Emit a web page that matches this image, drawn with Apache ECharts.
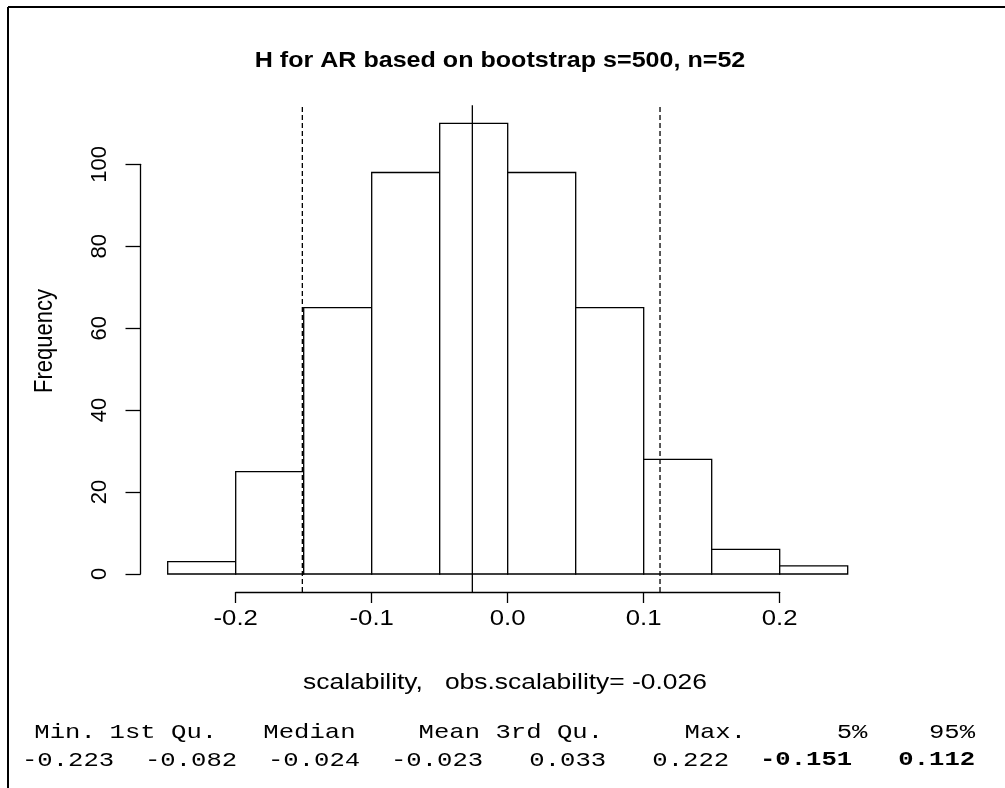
<!DOCTYPE html>
<html>
<head>
<meta charset="utf-8">
<script src="https://cdn.jsdelivr.net/npm/echarts@6/dist/echarts.min.js"></script>
<style>
html,body{margin:0;padding:0;background:#fff;}
#chart{width:1005px;height:788px;}
</style>
</head>
<body>
<div id="chart"></div>
<script>
// ---- data ----
const binEdges = [-0.25, -0.2, -0.15, -0.1, -0.05, 0.0, 0.05, 0.1, 0.15, 0.2, 0.25];
const counts = [3, 25, 65, 98, 110, 98, 65, 28, 6, 2];
const ciBounds = [-0.151, 0.112];
const observed = -0.026;
const xTickValues = [-0.2, -0.1, 0.0, 0.1, 0.2];
const xTickLabels = ['-0.2', '-0.1', '0.0', '0.1', '0.2'];
const yTickValues = [0, 20, 40, 60, 80, 100];
const titleText = 'H for AR based on bootstrap s=500, n=52';
const yAxisTitle = 'Frequency';
const xAxisTitle = 'scalability,   obs.scalability= -0.026';
const statNames = ['Min.', '1st Qu.', 'Median', 'Mean', '3rd Qu.', 'Max.', '5%', '95%'];
const statValues = ['-0.223', '-0.082', '-0.024', '-0.023', '0.033', '0.222', '-0.151', '0.112'];

// ---- layout ----
const X0 = 507.7, PXX = 1360;        // px per unit x
const Y0 = 574, PXY = 4.097;          // px per count
const usrX = [-0.27, 0.27], usrY = [-4.4, 114.4];
const plotLeft = X0 + usrX[0] * PXX, plotW = (usrX[1] - usrX[0]) * PXX;
const plotTop = Y0 - usrY[1] * PXY, plotH = (usrY[1] - usrY[0]) * PXY;
const axLeft = X0 + xTickValues[0] * PXX, axW = (xTickValues[4] - xTickValues[0]) * PXX;
const yTop = Y0 - yTickValues[5] * PXY, yH = yTickValues[5] * PXY;

const SANS = 'Liberation Sans, Arial, sans-serif';
const MONO = 'Liberation Mono, Courier New, monospace';
const LW = 1.3;
const SX = 1.17;   // horizontal stretch of the original picture

const bins = counts.map((c, i) => [binEdges[i], binEdges[i + 1], c]);

// stats line layout (monospace columns)
const MONO_SIZE = 21, MONO_SX = 1.22, statX0 = 22;
const charW = MONO_SIZE * 0.6 * MONO_SX;
const headerCenters = [2.8, 9.2, 18.7, 27.8, 34.3, 45.1, 54, 60.5];
function padTo(s, end, cur) { return ' '.repeat(Math.max(0, end - cur - s.length)) + s; }
let valsNormal = '', valsBold = '', vc = 0;
statValues.forEach((v, i) => {
  const p = padTo(v, 6 + 8 * i, vc); vc += p.length;
  if (i < 6) valsNormal += p; else valsBold += p;
});
const headerGraphics = statNames.map((n, i) => ({
  type: 'text', x: statX0 + headerCenters[i] * charW, y: 732, scaleX: MONO_SX,
  style: {text: n, font: MONO_SIZE + 'px ' + MONO, fill: '#000', align: 'center', verticalAlign: 'middle'}
}));

const chart = echarts.init(document.getElementById('chart'), null, {renderer: 'canvas'});
chart.setOption({
  backgroundColor: '#fff',
  animation: false,
  grid: [
    {left: plotLeft, top: plotTop, width: plotW, height: plotH},
    {left: axLeft, top: plotTop, width: axW, height: plotH},
    {left: plotLeft, top: yTop, width: 20, height: yH}
  ],
  xAxis: [
    {type: 'value', gridIndex: 0, min: usrX[0], max: usrX[1], show: false},
    {type: 'value', gridIndex: 1, min: xTickValues[0], max: xTickValues[4], interval: 0.1,
      position: 'bottom',
      axisLine: {show: true, lineStyle: {color: '#000', width: LW}},
      axisTick: {show: true, inside: false, length: 11, lineStyle: {color: '#000', width: LW}},
      splitLine: {show: false},
      axisLabel: {show: false}
    },
    {type: 'value', gridIndex: 2, show: false, min: 0, max: 1}
  ],
  yAxis: [
    {type: 'value', gridIndex: 0, min: usrY[0], max: usrY[1], show: false},
    {type: 'value', gridIndex: 1, min: 0, max: 1, show: false},
    {type: 'value', gridIndex: 2, min: yTickValues[0], max: yTickValues[5], interval: 20,
      position: 'left',
      axisLine: {show: true, lineStyle: {color: '#000', width: LW}},
      axisTick: {show: true, inside: false, length: 15, lineStyle: {color: '#000', width: LW}},
      splitLine: {show: false},
      axisLabel: {show: true, rotate: 90, margin: 30, color: '#000', fontFamily: SANS, fontSize: 22}
    }
  ],
  series: [
    {
      type: 'custom', xAxisIndex: 0, yAxisIndex: 0, data: bins, clip: false,
      encode: {x: [0, 1], y: 2},
      renderItem: (params, api) => {
        const a = api.coord([api.value(0), 0]);
        const b = api.coord([api.value(1), api.value(2)]);
        return {type: 'rect', shape: {x: a[0], y: b[1], width: b[0] - a[0], height: a[1] - b[1]},
          style: {fill: '#fff', stroke: '#000', lineWidth: LW}};
      }
    },
    {
      type: 'custom', xAxisIndex: 0, yAxisIndex: 0, clip: false,
      data: [[ciBounds[0], 1], [observed, 0], [ciBounds[1], 1]],
      renderItem: (params, api) => {
        const a = api.coord([api.value(0), usrY[0]]);
        const b = api.coord([api.value(0), usrY[1]]);
        return {type: 'line', shape: {x1: a[0], y1: a[1], x2: b[0], y2: b[1]},
          style: {stroke: '#000', lineWidth: LW, lineDash: api.value(1) ? [5, 3] : null}};
      }
    },
    {
      // x tick labels, placed through the x axis scale
      type: 'custom', xAxisIndex: 1, yAxisIndex: 1, clip: false,
      data: xTickValues.map((v, i) => [v, i]),
      renderItem: (params, api) => {
        const p = api.coord([api.value(0), 0]);
        return {type: 'text', x: p[0], y: p[1] + 16, scaleX: SX,
          style: {text: xTickLabels[api.value(1)], font: '22px ' + SANS, fill: '#000', align: 'center', verticalAlign: 'top'}};
      }
    }
  ],
  graphic: [
    {type: 'line', shape: {x1: 8, y1: 7, x2: 8, y2: 788}, style: {stroke: '#000', lineWidth: 2}},
    {type: 'line', shape: {x1: 8, y1: 7, x2: 1005, y2: 7}, style: {stroke: '#000', lineWidth: 2}},
    {type: 'text', x: 500, y: 61, scaleX: 1.14, style: {text: titleText, font: 'bold 22px ' + SANS, fill: '#000', align: 'center', verticalAlign: 'middle'}},
    {type: 'text', x: 45, y: 341, rotation: Math.PI / 2, scaleY: SX, style: {text: yAxisTitle, font: '22px ' + SANS, fill: '#000', align: 'center', verticalAlign: 'middle'}},
    {type: 'text', x: 505, y: 683, scaleX: 1.2, style: {text: xAxisTitle, font: '22px ' + SANS, fill: '#000', align: 'center', verticalAlign: 'middle'}},
    ...headerGraphics,
    {type: 'text', x: statX0, y: 760, scaleX: MONO_SX, style: {text: '{n|' + valsNormal + '}{b|' + valsBold + '}', fill: '#000', align: 'left', verticalAlign: 'middle',
      rich: {n: {font: MONO_SIZE + 'px ' + MONO, fill: '#000'}, b: {font: 'bold ' + MONO_SIZE + 'px ' + MONO, fill: '#000'}}}}
  ]
});
</script>
</body>
</html>
